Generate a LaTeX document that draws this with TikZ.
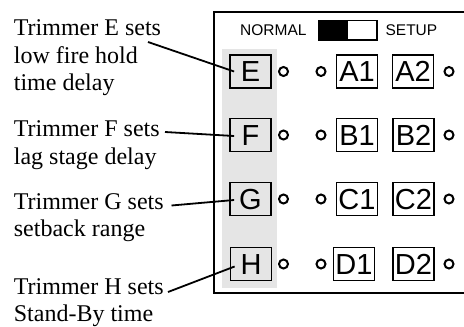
\documentclass[tikz,border=0pt]{standalone}
\usepackage{fontspec}
\setmainfont{Liberation Serif}
\newfontfamily\arialf{Liberation Sans}
\definecolor{panelgray}{RGB}{229,229,229}
\begin{document}
\begin{tikzpicture}[x=1pt,y=-1pt,line width=1.8pt,
  trim/.style={draw,minimum width=41pt,minimum height=33pt,inner sep=0pt,
    font=\arialf\fontsize{29}{29}\selectfont,text height=20.8pt,text depth=0pt},
  hole/.style={draw,circle,line width=2pt,minimum size=9pt,inner sep=0pt},
  lbl/.style={anchor=base west,inner sep=0pt,font=\fontsize{24}{27.5}\selectfont},
  swl/.style={anchor=base west,inner sep=0pt,font=\arialf\fontsize{15.5}{16}\selectfont},
  lead/.style={line width=1.8pt}]
\useasboundingbox (0,0) rectangle (464,327);
% frame
\draw (470,11.7) -- (214,11.7) -- (214,292.7) -- (470,292.7);
% gray column
\fill[panelgray] (221.7,49) rectangle (276.7,288);
% switch
\node[swl] (normal) at (239.3,35) {NORMAL};
\node[swl] (setup) at (384.7,35) {SETUP};
\fill[black] (318.3,20.5) rectangle (347.7,40);
\draw[line width=1.6pt] (318.3,20.5) rectangle (376.8,40);
% trimmer boxes
\node[trim] (E) at (250.5,71.5) {E};
\node[trim] (F) at (250.5,135) {F};
\node[trim] (G) at (250.5,199) {G};
\node[trim] (H) at (251,264) {H};
\node[trim] (A1) at (357,71.5) {A1};
\node[trim] (A2) at (413,71.5) {A2};
\node[trim] (B1) at (357,135) {B1};
\node[trim] (B2) at (413.5,135) {B2};
\node[trim] (C1) at (357,199) {C1};
\node[trim] (C2) at (413.5,199) {C2};
\node[trim] (D1) at (354,264) {D1};
\node[trim] (D2) at (413.5,264) {D2};
% holes
\foreach \r/\y in {a/71.5,b/135,c/199,d/264}{
  \node[hole] (\r1) at (283.5,\y) {};
  \node[hole] (\r2) at (321,\y) {};
  \node[hole] (\r3) at (449,\y) {};
}
% labels
\node[lbl] (le1) at (13,35) {Trimmer E sets};
\node[lbl] (le2) at (13,63) {low fire hold};
\node[lbl] (le3) at (13,90.5) {time delay};
\node[lbl] (lf1) at (13,136.7) {Trimmer F sets};
\node[lbl] (lf2) at (13,164.2) {lag stage delay};
\node[lbl] (lg1) at (13,209) {Trimmer G sets};
\node[lbl] (lg2) at (13,236.5) {setback range};
\node[lbl] (lh1) at (13,294) {Trimmer H sets};
\node[lbl] (lh2) at (13,321) {Stand-By time};
% leader starts
\coordinate (se) at (148,42);
\coordinate (sf) at (165,132);
\coordinate (sg) at (171.5,205.5);
\coordinate (sh) at (168,292);
\draw[lead] (se) -- ([xshift=5pt]E.west);
\draw[lead] (sf) -- ([xshift=5pt,yshift=-1pt]F.west);
\draw[lead] (sg) -- ([xshift=5pt,yshift=-1pt]G.west);
\draw[lead] (sh) -- ([xshift=5pt,yshift=-2.5pt]H.west);
\end{tikzpicture}
\end{document}
